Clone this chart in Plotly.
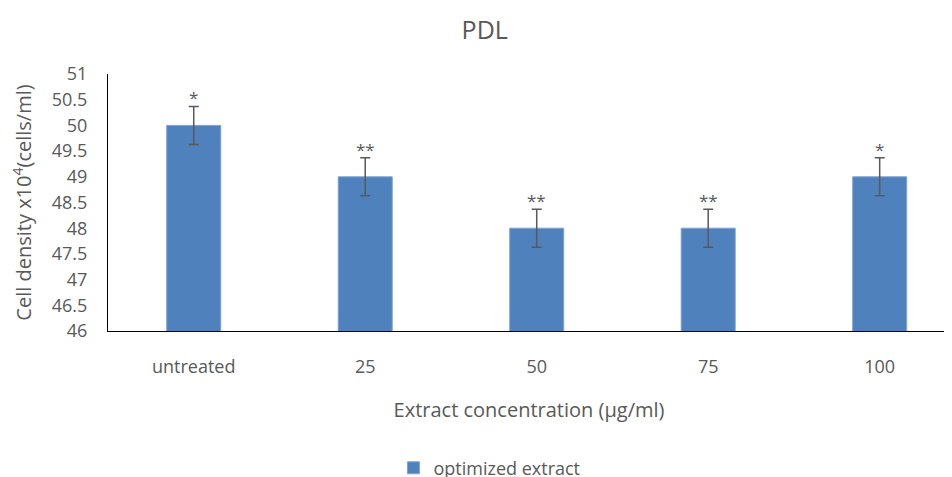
import plotly.graph_objects as go

categories = ["untreated", "25", "50", "75", "100"]
values = [50, 49, 48, 48, 49]
errors = [0.37, 0.37, 0.37, 0.37, 0.37]
stars = ["*", "**", "**", "**", "*"]

grey = "#595959"
font_family = "Open Sans, Liberation Sans, sans-serif"

fig = go.Figure()
fig.add_trace(go.Bar(
    x=categories, y=values, name="optimized extract",
    marker=dict(color="#4F81BD", line=dict(color="#7FA3D3", width=1)),
    error_y=dict(type="data", array=errors, visible=True, color=grey, thickness=1.5, width=5),
))

for i, (v, e, s) in enumerate(zip(values, errors, stars)):
    fig.add_annotation(x=i, y=v + e, text=s, showarrow=False, yanchor="bottom",
                       yshift=-5, font=dict(size=17, color=grey, family=font_family))

fig.update_layout(
    width=944, height=469,
    paper_bgcolor="white", plot_bgcolor="white",
    margin=dict(l=100, r=2, t=66, b=146),
    bargap=0.685,
    title=dict(text="PDL", x=0.505, xanchor="center", y=0.953, yanchor="middle",
               font=dict(size=25, color=grey, family=font_family)),
    font=dict(family=font_family, color=grey, size=16),
    showlegend=True,
    legend=dict(orientation="h", xref="container", yref="container",
                x=0.51, xanchor="center", y=0.019, yanchor="middle",
                font=dict(size=18, color=grey)),
    xaxis=dict(type="category", range=[-0.5, 4.41], showline=True, linecolor="#000000",
               linewidth=1, ticks="", automargin=False, tickangle=0, ticklabelstandoff=19,
               tickfont=dict(size=18, color=grey),
               title=dict(text="Extract concentration (µg/ml)", standoff=26,
                          font=dict(size=20, color=grey))),
    yaxis=dict(range=[46, 51], dtick=0.5, showline=True, linecolor="#000000", linewidth=1,
               showgrid=False, zeroline=False, ticks="", automargin=False,
               ticklabelstandoff=16,
               tickfont=dict(size=18, color=grey),
               title=dict(text="Cell density x10<sup>4</sup>(cells/ml)", standoff=16,
                          font=dict(size=20, color=grey))),
)

fig.write_html("out.html")
